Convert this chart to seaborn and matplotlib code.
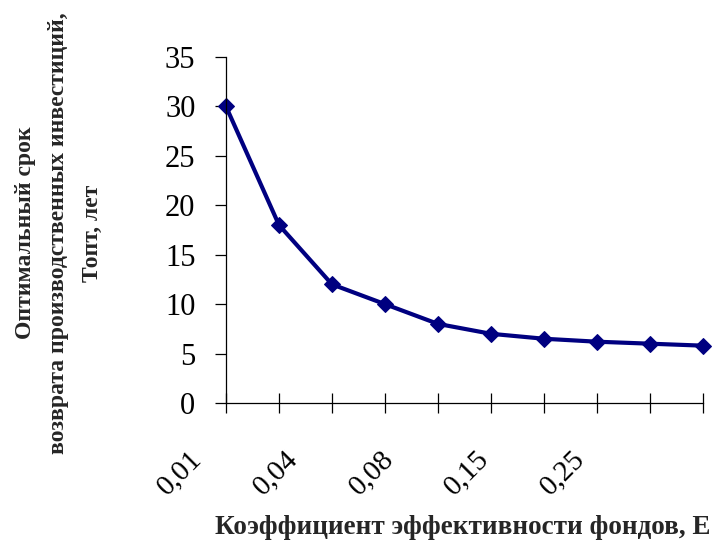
import matplotlib
matplotlib.use("Agg")
import matplotlib.pyplot as plt
import matplotlib.transforms as mtransforms
import seaborn as sns
import pandas as pd

# Data
e_labels = ["0,01", "0,02", "0,04", "0,06", "0,08", "0,10", "0,15", "0,20", "0,25", "0,30"]
t_opt = [30, 18, 12, 10, 8, 7, 6.5, 6.2, 6.0, 5.8]
y_ticks = [0, 5, 10, 15, 20, 25, 30, 35]

df = pd.DataFrame({"pos": list(range(len(e_labels))), "T": t_opt})

sns.set_style("white")
plt.rcParams["font.family"] = ["Liberation Serif", "DejaVu Serif"]

fig = plt.figure(figsize=(7.16, 5.45), dpi=100)
ax = fig.add_axes([226 / 716, 1 - 403 / 545, (703 - 226) / 716, (403 - 57) / 545])

sns.lineplot(data=df, x="pos", y="T", ax=ax, color="#000080", linewidth=3,
             marker="D", markersize=8, markeredgecolor="#000080",
             markerfacecolor="#000080", legend=False, clip_on=False)

ax.set_xlim(0, len(e_labels) - 1)
ax.set_ylim(0, 35)
ax.set_yticks(y_ticks)
ax.set_yticklabels([str(v) for v in y_ticks], fontsize=22)

positions = list(range(len(e_labels)))
shown = [lab if i % 2 == 0 else "" for i, lab in enumerate(e_labels)]
ax.set_xticks(positions)
ax.set_xticklabels(shown, fontsize=21, rotation=45, ha="center", va="center",
                   rotation_mode="anchor")

for side in ["top", "right"]:
    ax.spines[side].set_visible(False)
for side in ["left", "bottom"]:
    ax.spines[side].set_color("black")
    ax.spines[side].set_linewidth(0.9)

ax.tick_params(axis="y", left=True, direction="out", length=8, width=0.9, pad=14, colors="black")
ax.tick_params(axis="x", bottom=True, direction="inout", length=14, width=0.9, pad=0, colors="black")

# shift rotated x labels as in the reference
k = 0
for i, lab in enumerate(ax.get_xticklabels()):
    if i % 2 == 0:
        dx = (-46 - 10.3 * k) / 100.0
        dy = -60 / 100.0
        lab.set_transform(lab.get_transform() +
                          mtransforms.ScaledTranslation(dx, dy, fig.dpi_scale_trans))
        k += 1

ax.set_ylabel("Оптимальный срок\nвозврата производственных инвестиций,\nТопт, лет",
              fontsize=17, fontweight="bold", linespacing=1.8, ha="center", va="center")
ax.yaxis.set_label_coords((59 - 226) / 477, (403 - 233) / 346)

ax.set_xlabel("Коэффициент эффективности фондов, Е", fontsize=19.5, fontweight="bold",
              ha="center", va="center")
ax.xaxis.set_label_coords((463 - 226) / 477, (403 - 527) / 346)

ax.grid(False)
fig.savefig("out.png", dpi=100)
